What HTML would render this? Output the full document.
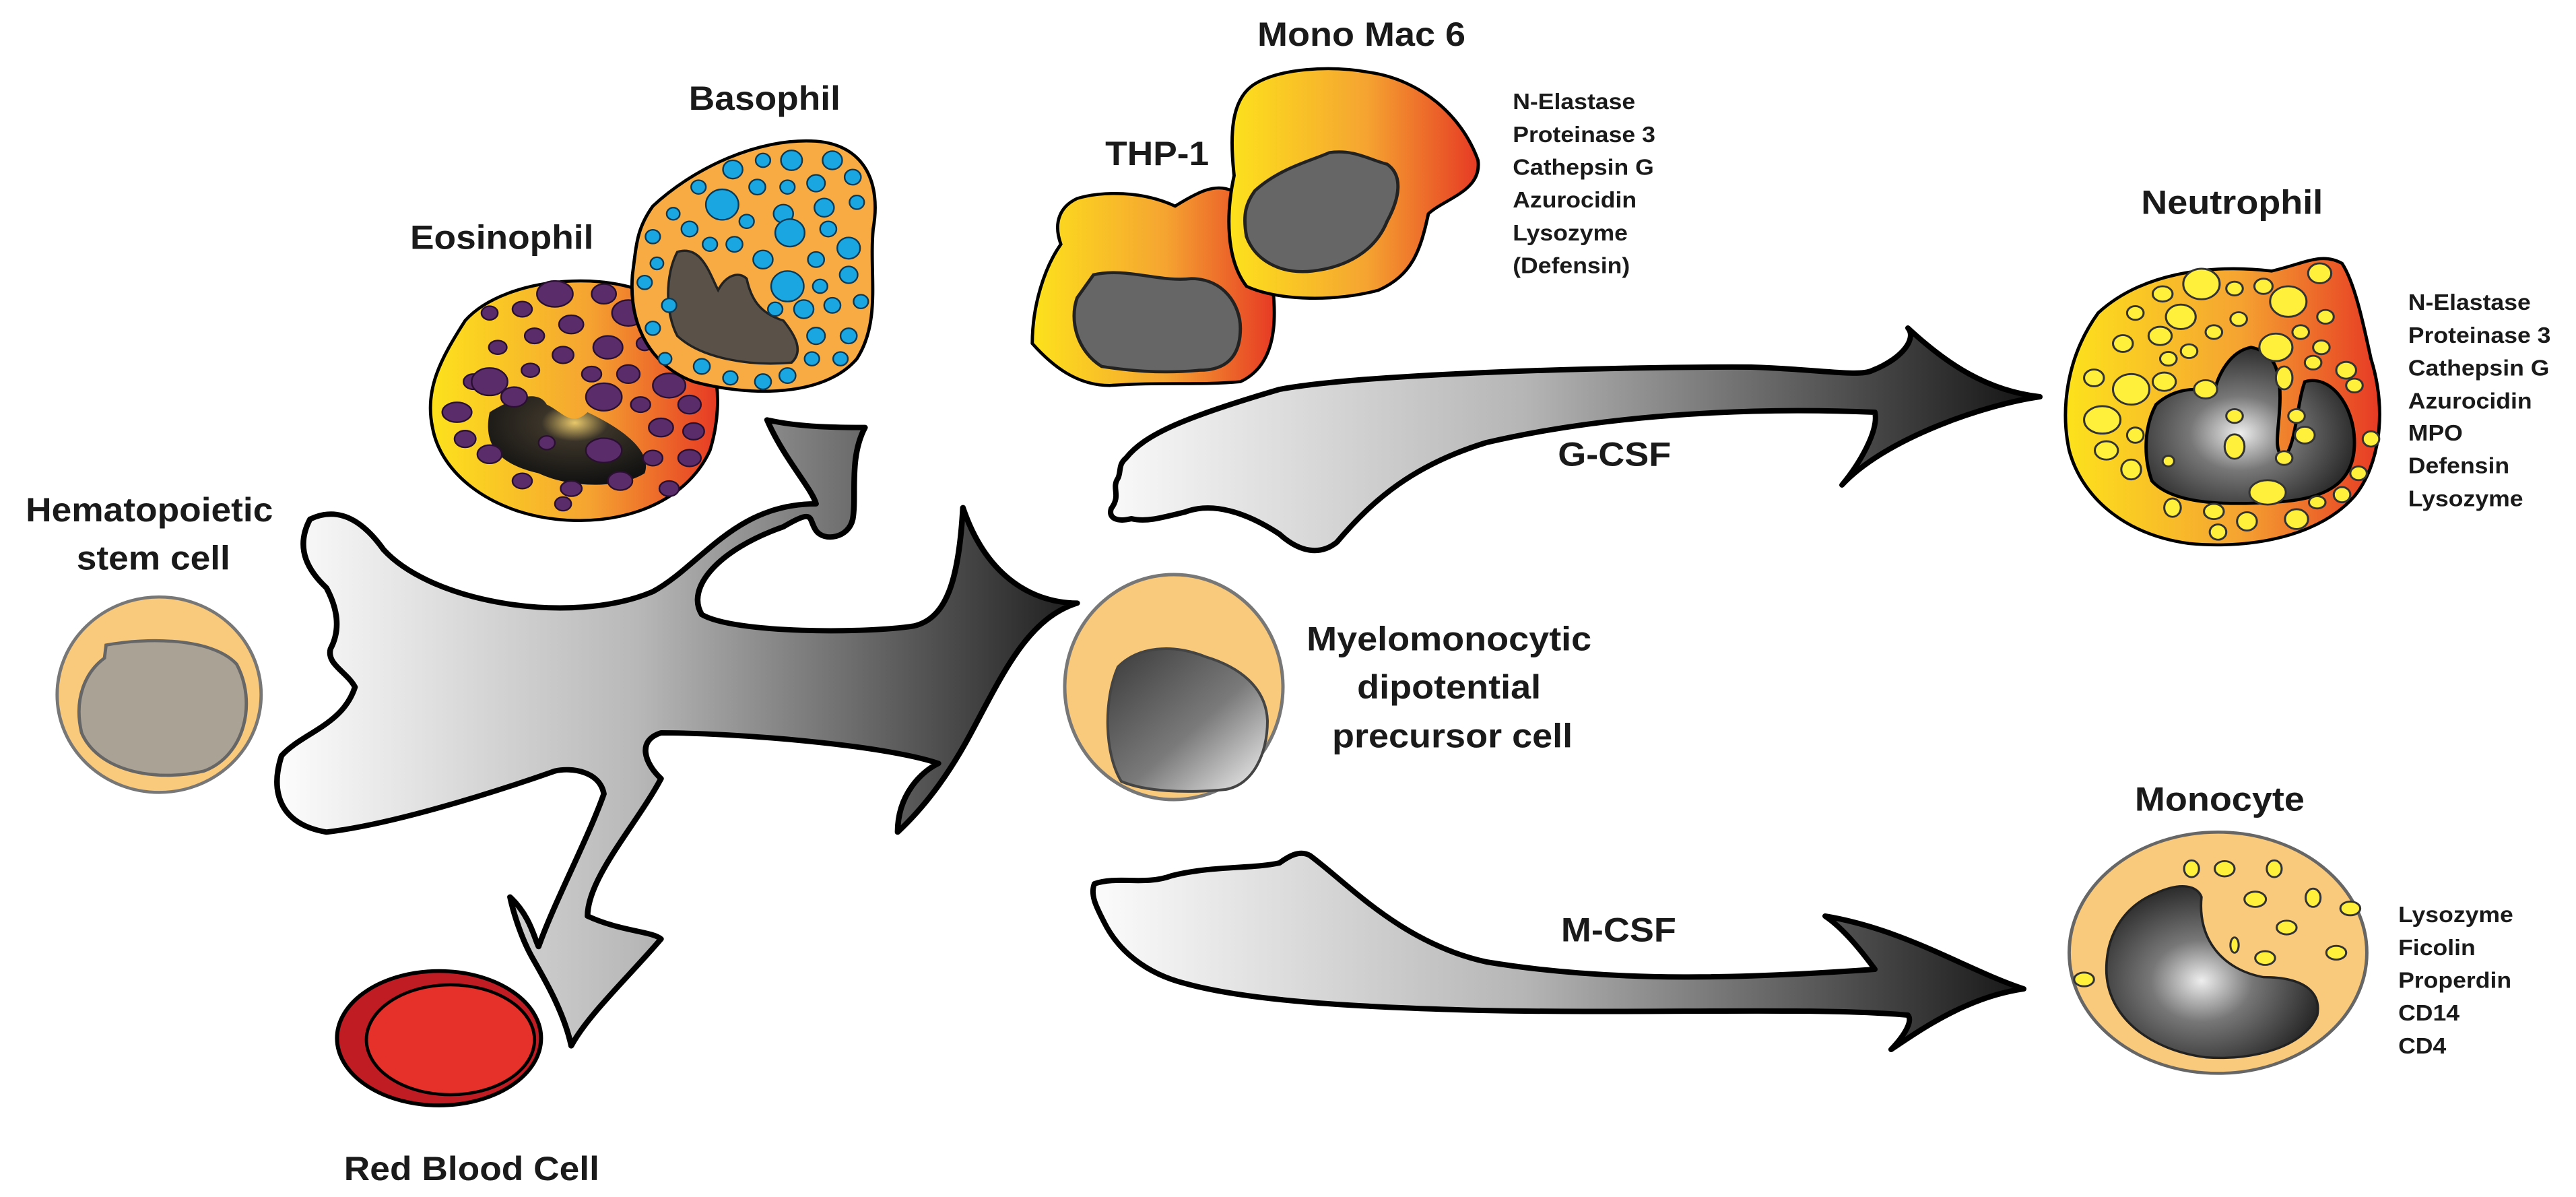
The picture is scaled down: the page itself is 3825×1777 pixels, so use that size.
<!DOCTYPE html>
<html><head><meta charset="utf-8"><style>
html,body{margin:0;padding:0;background:#fff;}
svg{display:block;}
text{font-family:"Liberation Sans",Arial,sans-serif;font-weight:bold;fill:#1a1a1a;}
.lab{font-size:44px;text-anchor:middle;}
.lst{font-size:29px;}
</style></head><body>
<svg width="3825" height="1777" viewBox="0 0 3825 1777" xmlns="http://www.w3.org/2000/svg">
<defs>
<linearGradient id="gArrow" gradientUnits="userSpaceOnUse" x1="340" y1="0" x2="1320" y2="0">
<stop offset="0" stop-color="#fdfdfd"/><stop offset="0.45" stop-color="#b8b8b8"/><stop offset="1" stop-color="#1e1e1e"/></linearGradient>
<linearGradient id="gH" gradientUnits="userSpaceOnUse" x1="1640" y1="0" x2="3030" y2="0">
<stop offset="0" stop-color="#fafafa"/><stop offset="0.45" stop-color="#b5b5b5"/><stop offset="1" stop-color="#111"/></linearGradient>
<linearGradient id="gCell" x1="0" y1="0" x2="1" y2="0">
<stop offset="0" stop-color="#fde21c"/><stop offset="0.55" stop-color="#f5a431"/><stop offset="1" stop-color="#e63a24"/></linearGradient>
<radialGradient id="gNuc" cx="0.45" cy="0.55" r="0.6">
<stop offset="0" stop-color="#eee"/><stop offset="0.4" stop-color="#777"/><stop offset="1" stop-color="#222"/></radialGradient>
<radialGradient id="gEo" cx="0.55" cy="0.3" r="0.7">
<stop offset="0" stop-color="#e8c86a"/><stop offset="0.3" stop-color="#3a3328"/><stop offset="1" stop-color="#111"/></radialGradient>
<linearGradient id="gPre" x1="0" y1="0" x2="1" y2="1">
<stop offset="0" stop-color="#3a3a3a"/><stop offset="0.55" stop-color="#7a7a7a"/><stop offset="1" stop-color="#f4f4f4"/></linearGradient>
</defs>

<g transform="scale(1.2117,1.1333)">
<path d="M380,680 C420,660 450,690 470,720 C530,790 700,820 800,775 C860,740 900,660 1000,660 C995,640 960,600 940,550 C980,560 1030,560 1060,560 C1040,600 1050,650 1045,680 C1040,705 1010,710 1000,695 C990,680 1000,665 960,690 C880,720 840,770 860,805 C900,830 1060,830 1120,820 C1160,810 1175,760 1180,665 C1210,760 1270,790 1320,790 C1260,810 1230,880 1190,960 C1160,1020 1130,1060 1100,1090 C1100,1040 1130,1010 1150,1000 C1080,975 900,960 810,960 C780,970 790,1000 810,1020 C780,1080 720,1150 720,1200 C760,1220 800,1220 810,1230 C770,1280 720,1330 700,1370 C690,1320 660,1270 650,1250 C640,1230 630,1200 625,1175 C650,1200 655,1230 660,1240 C680,1180 720,1100 740,1040 C735,1010 700,1005 680,1010 C600,1040 480,1080 400,1090 C345,1080 330,1040 345,990 C370,960 420,950 435,900 C425,880 400,870 405,850 C420,820 410,790 400,770 C380,750 360,720 380,680 Z" fill="url(#gArrow)" stroke="#000" stroke-width="7" stroke-linejoin="round"/>

<ellipse cx="195" cy="910" rx="125" ry="128" fill="#f9c97c" stroke="#777" stroke-width="4"/>
<path d="M130,845 C180,835 260,835 290,870 C315,920 300,990 250,1010 C190,1025 120,1010 100,960 C90,915 105,880 128,862 Z" fill="#aba296" stroke="#666" stroke-width="4"/>

<ellipse cx="538" cy="1360" rx="125" ry="88" fill="#c01c24" stroke="#000" stroke-width="5"/>
<ellipse cx="552" cy="1362" rx="103" ry="72" fill="#e6302a" stroke="#000" stroke-width="4"/>

<path d="M570,420 C620,360 760,350 820,400 C880,440 890,520 870,590 C840,660 760,690 680,680 C600,670 540,620 530,560 C520,510 540,470 570,420 Z" fill="url(#gCell)" stroke="#000" stroke-width="4"/>
<path d="M600,540 C630,520 660,510 670,530 C690,540 700,560 720,540 C760,560 800,590 790,620 C760,640 700,640 660,620 C620,610 590,590 600,540 Z" fill="url(#gEo)"/>
<g fill="#5a2c6a" stroke="#2a1030" stroke-width="2">
<ellipse cx="680" cy="385" rx="22" ry="17"/><ellipse cx="740" cy="385" rx="15" ry="13"/><ellipse cx="640" cy="405" rx="12" ry="10"/><ellipse cx="600" cy="410" rx="10" ry="9"/>
<ellipse cx="700" cy="425" rx="15" ry="12"/><ellipse cx="770" cy="410" rx="20" ry="17"/><ellipse cx="655" cy="440" rx="12" ry="10"/><ellipse cx="610" cy="455" rx="11" ry="9"/>
<ellipse cx="745" cy="455" rx="18" ry="15"/><ellipse cx="690" cy="465" rx="13" ry="11"/><ellipse cx="580" cy="500" rx="12" ry="10"/><ellipse cx="600" cy="500" rx="22" ry="18"/>
<ellipse cx="650" cy="485" rx="11" ry="9"/><ellipse cx="725" cy="490" rx="12" ry="10"/><ellipse cx="770" cy="490" rx="14" ry="12"/><ellipse cx="820" cy="505" rx="20" ry="16"/>
<ellipse cx="740" cy="520" rx="22" ry="18"/><ellipse cx="785" cy="530" rx="12" ry="10"/><ellipse cx="845" cy="530" rx="14" ry="12"/><ellipse cx="560" cy="540" rx="18" ry="13"/>
<ellipse cx="810" cy="560" rx="15" ry="12"/><ellipse cx="850" cy="565" rx="13" ry="11"/><ellipse cx="570" cy="575" rx="13" ry="11"/><ellipse cx="740" cy="590" rx="22" ry="16"/>
<ellipse cx="800" cy="600" rx="12" ry="10"/><ellipse cx="845" cy="600" rx="14" ry="11"/><ellipse cx="600" cy="595" rx="15" ry="12"/><ellipse cx="640" cy="630" rx="12" ry="10"/>
<ellipse cx="700" cy="640" rx="13" ry="10"/><ellipse cx="760" cy="630" rx="15" ry="12"/><ellipse cx="820" cy="640" rx="12" ry="10"/><ellipse cx="690" cy="660" rx="10" ry="9"/>
<ellipse cx="630" cy="520" rx="16" ry="13"/><ellipse cx="790" cy="450" rx="10" ry="9"/><ellipse cx="670" cy="580" rx="10" ry="9"/>
</g>

<path d="M800,270 C850,220 930,180 1000,185 C1060,190 1080,240 1070,300 C1065,360 1080,420 1050,470 C1010,520 920,520 850,500 C800,480 770,430 775,360 C780,320 780,300 800,270 Z" fill="#f8ab42" stroke="#000" stroke-width="4"/>
<path d="M830,330 C860,320 870,360 880,380 C890,360 905,355 915,365 C920,390 930,410 960,420 C975,440 985,460 970,475 C920,480 860,470 830,440 C815,410 815,360 830,330 Z" fill="#5a5248" stroke="#222" stroke-width="3"/>
<g fill="#1aa6e0" stroke="#0a3a55" stroke-width="2">
<circle cx="898" cy="222" r="12"/><circle cx="935" cy="210" r="9"/><circle cx="970" cy="210" r="13"/><circle cx="1020" cy="210" r="12"/><circle cx="856" cy="245" r="9"/>
<circle cx="885" cy="268" r="20"/><circle cx="928" cy="245" r="10"/><circle cx="965" cy="245" r="9"/><circle cx="1000" cy="240" r="11"/><circle cx="1045" cy="232" r="10"/>
<circle cx="825" cy="280" r="8"/><circle cx="845" cy="300" r="10"/><circle cx="915" cy="290" r="9"/><circle cx="960" cy="280" r="12"/><circle cx="1010" cy="272" r="12"/><circle cx="1050" cy="265" r="9"/>
<circle cx="800" cy="310" r="9"/><circle cx="870" cy="320" r="9"/><circle cx="900" cy="320" r="10"/><circle cx="968" cy="305" r="18"/><circle cx="1015" cy="300" r="10"/><circle cx="1040" cy="325" r="14"/>
<circle cx="805" cy="345" r="8"/><circle cx="935" cy="340" r="12"/><circle cx="1000" cy="340" r="10"/><circle cx="790" cy="370" r="9"/><circle cx="965" cy="375" r="20"/><circle cx="1040" cy="360" r="11"/>
<circle cx="1005" cy="375" r="9"/><circle cx="820" cy="400" r="9"/><circle cx="950" cy="405" r="9"/><circle cx="985" cy="405" r="12"/><circle cx="1020" cy="400" r="10"/><circle cx="1055" cy="395" r="9"/>
<circle cx="800" cy="430" r="9"/><circle cx="1000" cy="440" r="11"/><circle cx="1040" cy="440" r="10"/><circle cx="995" cy="470" r="9"/><circle cx="815" cy="470" r="8"/>
<circle cx="860" cy="480" r="10"/><circle cx="895" cy="495" r="9"/><circle cx="935" cy="500" r="10"/><circle cx="965" cy="492" r="10"/><circle cx="1030" cy="470" r="9"/>
</g>

<path d="M1320,260 C1350,250 1400,250 1440,270 C1470,250 1490,240 1510,250 C1540,270 1560,310 1560,380 C1565,430 1560,480 1520,500 C1470,505 1420,500 1360,505 C1320,505 1290,480 1265,450 C1265,400 1280,350 1300,320 C1290,290 1300,270 1320,260 Z" fill="url(#gCell)" stroke="#000" stroke-width="4"/>
<path d="M1340,360 C1380,350 1420,370 1460,365 C1500,365 1520,400 1520,430 C1520,470 1500,485 1470,485 C1420,490 1380,485 1350,480 C1320,460 1310,420 1320,390 Z" fill="#666" stroke="#222" stroke-width="4"/>

<text class="lab" x="937" y="144">Basophil</text>
<text class="lab" x="615" y="326">Eosinophil</text>
<text class="lab" x="183" y="683">Hematopoietic</text>
<text class="lab" x="188" y="746">stem cell</text>
<text class="lab" x="578" y="1546">Red Blood Cell</text>
<text class="lab" x="1418" y="216">THP-1</text>
</g>

<!-- precursor cell -->
<ellipse cx="1743" cy="1020" rx="162" ry="167" fill="#f9c97c" stroke="#777" stroke-width="5"/>
<path d="M1660,990 C1690,960 1740,955 1790,975 C1840,990 1880,1020 1882,1070 C1882,1120 1860,1165 1820,1172 C1760,1178 1700,1175 1665,1160 C1640,1120 1638,1040 1660,990 Z" fill="url(#gPre)" stroke="#444" stroke-width="4"/>

<path d="M1672,680 C1700,645 1757,620 1900,578 C2023,555 2391,544 2600,545 C2700,548 2760,560 2780,550 C2830,530 2845,500 2833,487 C2890,540 2950,580 3029,589 C2950,600 2800,650 2735,720 C2760,690 2790,640 2784,612 C2620,605 2400,612 2207,657 C2100,690 2040,740 1985,805 C1960,825 1930,820 1900,793 C1850,760 1800,745 1760,760 C1720,770 1700,775 1680,770 C1660,775 1645,770 1650,755 C1665,735 1650,725 1660,710 C1665,700 1660,690 1672,680 Z" fill="url(#gH)" stroke="#000" stroke-width="8" stroke-linejoin="round"/>

<path d="M1625,1312 C1660,1300 1700,1315 1740,1300 C1800,1285 1860,1290 1900,1281 C1915,1270 1930,1262 1945,1270 C2000,1310 2080,1400 2207,1428 C2400,1460 2600,1452 2784,1439 C2770,1420 2740,1380 2710,1360 C2830,1380 2920,1440 3005,1468 C2920,1480 2850,1530 2808,1558 C2830,1535 2840,1515 2833,1507 C2700,1495 2450,1505 2200,1500 C2000,1495 1850,1485 1760,1460 C1700,1445 1660,1410 1640,1370 C1630,1350 1618,1330 1625,1312 Z" fill="url(#gH)" stroke="#000" stroke-width="8" stroke-linejoin="round"/>

<g transform="translate(1900,0) scale(1.2277,1.1333)">
<path d="M-30,110 C0,90 60,85 110,95 C170,105 220,150 240,210 C245,250 200,260 180,280 C170,330 160,360 120,380 C70,395 0,395 -40,375 C-65,340 -65,280 -55,230 C-60,180 -60,130 -30,110 Z" fill="url(#gCell)" stroke="#000" stroke-width="4"/>
<path d="M-30,250 C0,220 40,210 60,200 C90,195 110,210 130,215 C150,230 145,260 130,290 C115,330 80,350 40,355 C0,360 -30,340 -40,310 C-45,280 -40,265 -30,250 Z" fill="#666" stroke="#222" stroke-width="4"/>

<path d="M990,410 C1040,360 1120,345 1200,355 C1240,345 1260,330 1285,345 C1300,370 1310,420 1320,470 C1340,540 1330,610 1300,650 C1260,700 1180,720 1100,712 C1020,700 970,650 955,590 C945,540 950,470 990,410 Z" fill="url(#gCell)" stroke="#000" stroke-width="4"/>
<path d="M1060,530 C1080,510 1110,505 1130,515 C1135,490 1150,460 1175,455 C1200,460 1210,480 1210,520 C1210,560 1200,590 1215,600 C1230,580 1230,530 1240,500 C1270,490 1300,530 1300,580 C1300,630 1270,655 1200,658 C1140,662 1080,660 1055,630 C1045,600 1045,560 1060,530 Z" fill="url(#gNuc)" stroke="#000" stroke-width="4"/>
<g fill="#fff03c" stroke="#333" stroke-width="2.5">
<ellipse cx="1115" cy="372" rx="22" ry="20"/><ellipse cx="1068" cy="385" rx="12" ry="10"/><ellipse cx="1155" cy="378" rx="10" ry="9"/><ellipse cx="1190" cy="375" rx="11" ry="10"/><ellipse cx="1258" cy="358" rx="14" ry="13"/>
<ellipse cx="1220" cy="395" rx="22" ry="20"/><ellipse cx="1035" cy="410" rx="10" ry="9"/><ellipse cx="1090" cy="415" rx="18" ry="16"/><ellipse cx="1160" cy="418" rx="10" ry="9"/><ellipse cx="1265" cy="415" rx="10" ry="9"/>
<ellipse cx="1020" cy="450" rx="12" ry="11"/><ellipse cx="1065" cy="440" rx="14" ry="12"/><ellipse cx="1130" cy="435" rx="10" ry="9"/><ellipse cx="1235" cy="435" rx="10" ry="9"/><ellipse cx="1205" cy="455" rx="20" ry="18"/>
<ellipse cx="1260" cy="455" rx="10" ry="9"/><ellipse cx="985" cy="495" rx="12" ry="11"/><ellipse cx="1030" cy="510" rx="22" ry="20"/><ellipse cx="1075" cy="470" rx="10" ry="9"/><ellipse cx="1100" cy="460" rx="10" ry="9"/>
<ellipse cx="1250" cy="475" rx="10" ry="9"/><ellipse cx="1290" cy="485" rx="12" ry="11"/><ellipse cx="1070" cy="500" rx="14" ry="12"/><ellipse cx="1120" cy="510" rx="14" ry="12"/><ellipse cx="1215" cy="495" rx="10" ry="15"/>
<ellipse cx="995" cy="550" rx="22" ry="18"/><ellipse cx="1035" cy="570" rx="10" ry="10"/><ellipse cx="1300" cy="505" rx="10" ry="9"/><ellipse cx="1155" cy="545" rx="10" ry="9"/><ellipse cx="1155" cy="585" rx="12" ry="16"/>
<ellipse cx="1230" cy="545" rx="10" ry="9"/><ellipse cx="1240" cy="570" rx="12" ry="11"/><ellipse cx="1320" cy="575" rx="10" ry="10"/><ellipse cx="1000" cy="590" rx="14" ry="12"/><ellipse cx="1030" cy="615" rx="12" ry="13"/>
<ellipse cx="1215" cy="600" rx="10" ry="9"/><ellipse cx="1305" cy="620" rx="10" ry="9"/><ellipse cx="1195" cy="645" rx="22" ry="16"/><ellipse cx="1255" cy="658" rx="10" ry="8"/><ellipse cx="1285" cy="648" rx="10" ry="10"/>
<ellipse cx="1080" cy="665" rx="10" ry="12"/><ellipse cx="1130" cy="670" rx="12" ry="10"/><ellipse cx="1170" cy="683" rx="12" ry="12"/><ellipse cx="1135" cy="697" rx="10" ry="10"/><ellipse cx="1230" cy="680" rx="14" ry="13"/>
<ellipse cx="1075" cy="604" rx="7" ry="7"/>
</g>

<ellipse cx="1135" cy="1248" rx="180" ry="158" fill="#f9c97c" stroke="#666" stroke-width="4"/>
<path d="M1060,1170 C1090,1155 1110,1160 1115,1175 C1110,1230 1140,1270 1190,1280 C1240,1280 1260,1300 1255,1330 C1240,1370 1180,1390 1120,1385 C1050,1375 1000,1330 1000,1270 C1000,1220 1025,1185 1060,1170 Z" fill="url(#gNuc)" stroke="#222" stroke-width="3"/>
<g fill="#fff03c" stroke="#333" stroke-width="2.5">
<ellipse cx="1103" cy="1138" rx="9" ry="11"/><ellipse cx="1143" cy="1138" rx="12" ry="10"/><ellipse cx="1203" cy="1138" rx="9" ry="11"/><ellipse cx="1180" cy="1178" rx="13" ry="10"/><ellipse cx="1250" cy="1176" rx="9" ry="12"/>
<ellipse cx="1295" cy="1190" rx="12" ry="9"/><ellipse cx="1218" cy="1215" rx="12" ry="9"/><ellipse cx="1155" cy="1238" rx="5" ry="10"/><ellipse cx="1192" cy="1255" rx="12" ry="9"/><ellipse cx="1278" cy="1248" rx="12" ry="9"/>
<ellipse cx="973" cy="1283" rx="12" ry="9"/>
</g>

<text class="lab" x="99" y="60">Mono Mac 6</text>
<text class="lab" x="1152" y="280">Neutrophil</text>
<text class="lab" x="1137" y="1062">Monocyte</text>
<text class="lab" x="205" y="852">Myelomonocytic</text>
<text class="lab" x="205" y="915">dipotential</text>
<text class="lab" x="209" y="979">precursor cell</text>
<text class="lab" x="405" y="610">G-CSF</text>
<text class="lab" x="410" y="1233">M-CSF</text>
<text class="lst" x="282" y="143">N-Elastase</text>
<text class="lst" x="282" y="186">Proteinase 3</text>
<text class="lst" x="282" y="229">Cathepsin G</text>
<text class="lst" x="282" y="272">Azurocidin</text>
<text class="lst" x="282" y="315">Lysozyme</text>
<text class="lst" x="282" y="358">(Defensin)</text>
<text class="lst" x="1365" y="406">N-Elastase</text>
<text class="lst" x="1365" y="449">Proteinase 3</text>
<text class="lst" x="1365" y="492">Cathepsin G</text>
<text class="lst" x="1365" y="535">Azurocidin</text>
<text class="lst" x="1365" y="577">MPO</text>
<text class="lst" x="1365" y="620">Defensin</text>
<text class="lst" x="1365" y="663">Lysozyme</text>
<text class="lst" x="1353" y="1208">Lysozyme</text>
<text class="lst" x="1353" y="1251">Ficolin</text>
<text class="lst" x="1353" y="1294">Properdin</text>
<text class="lst" x="1353" y="1337">CD14</text>
<text class="lst" x="1353" y="1380">CD4</text>
</g>
</svg>
</body></html>
